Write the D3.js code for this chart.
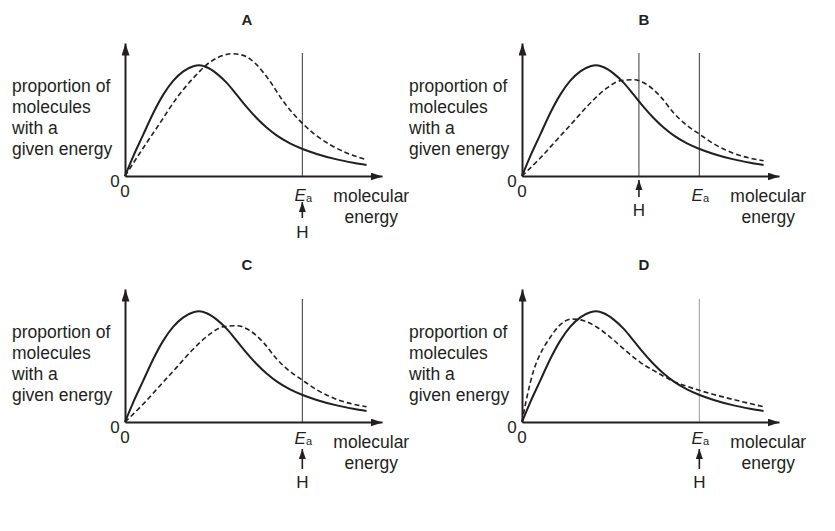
<!DOCTYPE html>
<html>
<head>
<meta charset="utf-8">
<script src="https://cdn.jsdelivr.net/npm/d3@7"></script>
<style>
  body { margin: 0; background: #fff; }
  text { font-family: "Liberation Sans", Arial, sans-serif; fill: #231f20; }
</style>
</head>
<body>
<script>
// energy / proportion pairs (axis units 0..10)
const solidCurve = [[0,0],[0.32,1.48],[0.71,3.11],[1.10,4.74],[1.49,6.12],[1.88,7.17],[2.27,7.87],
  [2.66,8.25],[2.89,8.32],[3.18,8.18],[3.57,7.70],[3.96,7.00],[4.35,6.10],[4.73,5.20],[5.12,4.36],
  [5.51,3.64],[5.90,3.05],[6.42,2.45],[6.91,2.03],[7.46,1.66],[8.24,1.25],[8.88,1.00],[9.40,0.83]];

const dashedA = [[0,0],[0.71,2.11],[1.36,3.98],[2.01,5.86],[2.66,7.37],[3.31,8.57],[3.83,9.07],
  [4.15,9.20],[4.60,9.07],[5.12,8.37],[5.64,7.12],[6.16,5.61],[6.68,4.40],[6.91,3.95],[7.46,3.02],
  [7.98,2.35],[8.50,1.84],[9.40,1.22]];

const dashedBC = [[0,0],[0.71,1.35],[1.36,2.73],[2.01,4.11],[2.66,5.49],[3.31,6.62],[3.83,7.17],
  [4.35,7.24],[4.86,6.87],[5.38,5.99],[5.90,4.74],[6.42,3.80],[6.90,3.15],[7.46,2.42],[8.24,1.70],
  [9.40,1.15]];

const dashedD = [[0,0],[0.19,1.85],[0.45,3.86],[0.71,5.11],[1.10,6.37],[1.49,7.32],[1.95,7.74],
  [2.40,7.62],[2.92,7.12],[3.44,6.37],[3.96,5.49],[4.60,4.49],[5.25,3.73],[5.90,3.05],[6.42,2.68],
  [6.90,2.38],[7.46,2.07],[8.24,1.68],[9.40,1.15]];

const panelNames = ["A", "B", "C", "D"];
const dashedCurves = [dashedA, dashedBC, dashedBC, dashedD];
const eaValue = 6.9;
const hValues = [6.9, 4.55, 6.9, 6.9];
const lineTop = 9.25;
const yLabelLines = ["proportion of", "molecules", "with a", "given energy"];

const width = 835, height = 531;
const plotW = 257, plotH = 133;
const origins = [[125,176],[522,176],[125,422],[522,422]];

const svg = d3.select("body").append("svg")
    .attr("width", width)
    .attr("height", height);

const defs = svg.append("defs");
defs.append("marker")
    .attr("id", "axisArrow")
    .attr("markerUnits", "userSpaceOnUse")
    .attr("markerWidth", 14).attr("markerHeight", 10)
    .attr("refX", 12).attr("refY", 4)
    .attr("orient", "auto")
  .append("path")
    .attr("d", "M0,0L12,4L0,8Z")
    .attr("fill", "#231f20");
defs.append("marker")
    .attr("id", "hArrow")
    .attr("markerUnits", "userSpaceOnUse")
    .attr("markerWidth", 10).attr("markerHeight", 10)
    .attr("refX", 10).attr("refY", 3.5)
    .attr("orient", "auto")
  .append("path")
    .attr("d", "M0,0L10,3.5L0,7Z")
    .attr("fill", "#231f20");

const x = d3.scaleLinear().domain([0, 10]).range([0, plotW]);
const y = d3.scaleLinear().domain([0, 10]).range([plotH, 0]);

const line = d3.line()
    .x(d => x(d[0]))
    .y(d => y(d[1]))
    .curve(d3.curveMonotoneX);

panelNames.forEach((name, i) => {
    const [ox, oy] = origins[i];
    const g = svg.append("g").attr("transform", `translate(${ox},${oy - plotH})`);
    const lower = i >= 2;

    // title
    g.append("text")
        .attr("x", 122).attr("y", lower ? -19 : -18)
        .attr("text-anchor", "middle")
        .attr("font-size", 15).attr("font-weight", "bold")
        .text(name);

    // y label
    const yl = g.append("text").attr("font-size", 17.5);
    yLabelLines.forEach((t, k) => {
        yl.append("tspan").attr("x", -113).attr("y", 49 + k * 21).text(t);
    });

    // vertical guide lines
    const guideColor = i === 3 ? "#9a9a9a" : "#3a3a3a";
    const guides = i === 1 ? [hValues[1], eaValue] : [eaValue];
    guides.forEach(v => {
        g.append("line")
            .attr("x1", x(v)).attr("x2", x(v))
            .attr("y1", y(0)).attr("y2", y(lineTop))
            .attr("stroke", guideColor).attr("stroke-width", 1);
    });

    // curves
    g.append("path")
        .attr("d", line(dashedCurves[i]))
        .attr("fill", "none").attr("stroke", "#231f20")
        .attr("stroke-width", 1.6).attr("stroke-dasharray", "5,3");
    g.append("path")
        .attr("d", line(solidCurve))
        .attr("fill", "none").attr("stroke", "#231f20")
        .attr("stroke-width", 2);

    // axes
    const xAxis = g.append("g").attr("transform", `translate(0,${plotH})`)
        .call(d3.axisBottom(x).tickValues([]).tickSizeOuter(0));
    const yAxis = g.append("g")
        .call(d3.axisLeft(y).tickValues([]).tickSizeOuter(0));
    [xAxis, yAxis].forEach(a => a.select(".domain")
        .attr("stroke", "#231f20").attr("stroke-width", 2)
        .attr("marker-end", "url(#axisArrow)"));

    // zero labels
    g.append("text").attr("x", -10).attr("y", plotH + 11)
        .attr("text-anchor", "middle").attr("font-size", 17).text("0");
    g.append("text").attr("x", 0).attr("y", plotH + 21)
        .attr("text-anchor", "middle").attr("font-size", 17).text("0");

    // Ea label
    const eaOff = lower ? 22 : 25;
    const ea = g.append("text").attr("x", x(eaValue) + 1).attr("y", plotH + eaOff)
        .attr("text-anchor", "middle").attr("font-size", 17);
    ea.append("tspan").attr("font-style", "italic").text("E");
    ea.append("tspan").attr("font-size", 11).attr("dy", 1).text("a");

    // x label
    g.append("text").attr("x", x(eaValue) + 31).attr("y", plotH + 26)
        .attr("font-size", 17.5).text("molecular");
    g.append("text").attr("x", x(eaValue) + 69).attr("y", plotH + 47)
        .attr("text-anchor", "middle").attr("font-size", 17.5).text("energy");

    // H arrow
    const hx = x(hValues[i]);
    const tip = i === 1 ? 4 : (lower ? 27 : 26);
    const base = i === 1 ? 21 : (lower ? 47 : 42);
    const hBase = i === 1 ? 40 : (lower ? 66 : 62);
    g.append("line")
        .attr("x1", hx).attr("x2", hx)
        .attr("y1", plotH + base).attr("y2", plotH + tip)
        .attr("stroke", "#231f20").attr("stroke-width", 1.6)
        .attr("marker-end", "url(#hArrow)");
    g.append("text").attr("x", hx).attr("y", plotH + hBase)
        .attr("text-anchor", "middle").attr("font-size", 17).text("H");
});
</script>
</body>
</html>
